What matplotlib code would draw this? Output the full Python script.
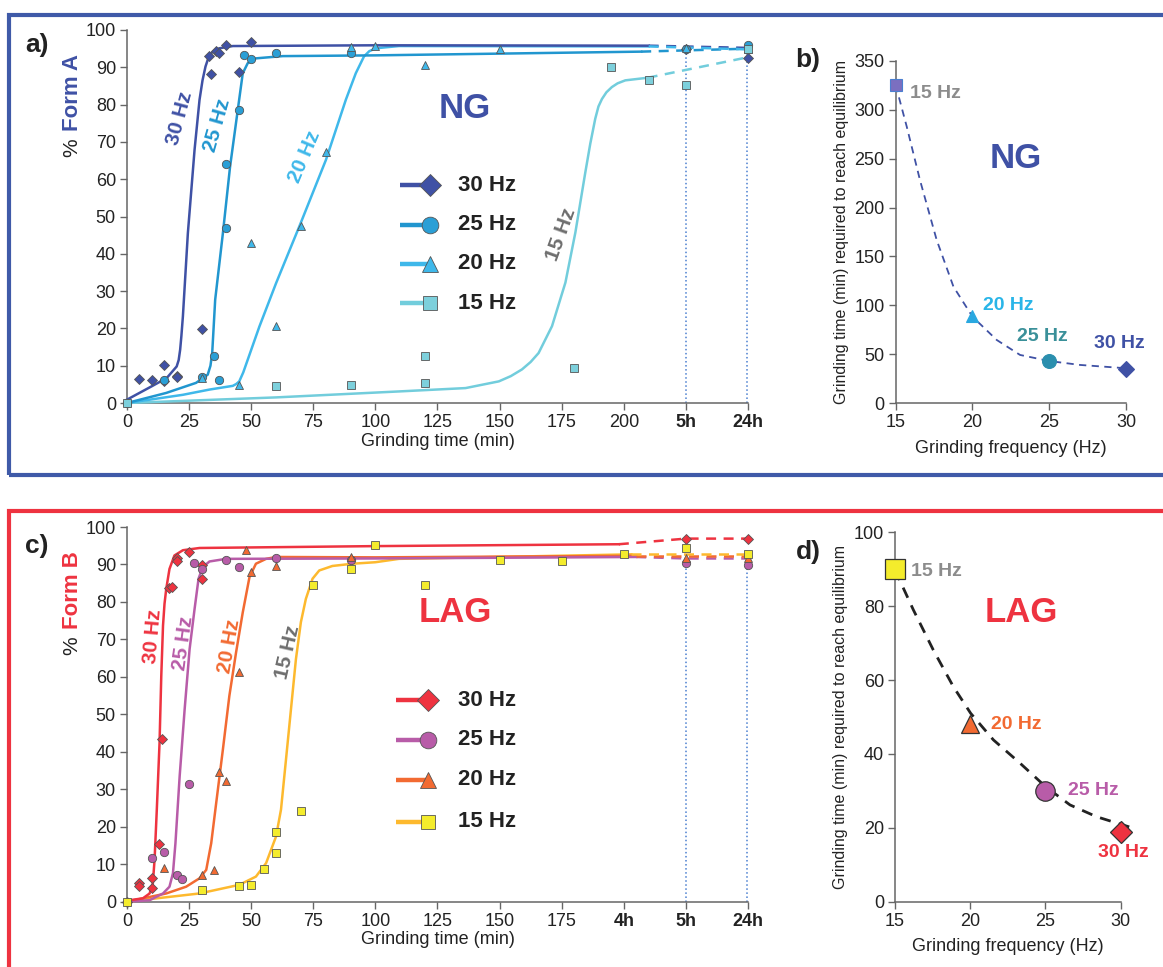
import numpy as np
import matplotlib.pyplot as plt
from matplotlib.patches import Rectangle

plt.rcParams['font.family'] = ['Liberation Sans', 'DejaVu Sans']

# ---------------- data ----------------
# x positions: minutes, with 4h -> 200, 5h -> 225, 24h -> 250 on the broken axis
freqs = ["30 Hz", "25 Hz", "20 Hz", "15 Hz"]

# panel a: NG, % Form A
a30_pts = [(5, 6.4), (10, 6.1), (15, 10.3), (15, 6.0), (20, 7.3), (20, 7.1), (30, 19.8),
           (33, 92.9), (34, 88.2), (36, 94.5), (37, 93.8), (40, 96.0), (45, 88.7), (50, 96.9),
           (225, 95.0), (250, 92.5)]
a25_pts = [(0, 0), (15, 6.2), (30, 7.1), (35, 12.5), (37, 6.1), (40, 64.1), (40, 47.0),
           (45, 78.6), (47, 93.2), (50, 92.3), (60, 93.9), (90, 93.9), (225, 94.8), (250, 95.9)]
a20_pts = [(30, 6.7), (45, 4.9), (50, 43.0), (60, 20.7), (70, 47.5), (80, 67.2), (90, 95.5),
           (100, 95.8), (120, 90.7), (150, 94.8), (225, 95.2), (250, 95.0)]
a15_pts = [(0, 0), (60, 4.6), (90, 4.8), (120, 12.6), (120, 5.4), (180, 9.4), (195, 90.0),
           (210, 86.7), (225, 85.2), (250, 94.8)]

a30_fit = [(0, 0.9), (10, 4.5), (16, 6.7), (20, 9.8), (20.8, 11.5), (21.4, 14.3), (21.9, 18.0),
           (22.5, 23.2), (24.5, 45.5), (27.2, 67.9), (29.2, 81.3), (30.4, 86.5), (31.6, 90.2),
           (32.7, 92.4), (33.9, 93.8), (35.4, 94.6), (37.2, 95.1), (42.6, 95.7), (100, 95.9), (210, 95.8)]
a25_fit = [(0, 0), (15.8, 2.7), (27.8, 5.4), (32.5, 7.6), (33.6, 10.0), (34.3, 13.4), (35.5, 27.7),
           (38.6, 45.5), (41.5, 63.4), (44.6, 78.6), (46.6, 88.4), (48.6, 91.1), (51.9, 92.4),
           (62.7, 93.0), (100, 93.2), (207, 94.2)]
a20_fit = [(0, 0), (22.5, 2.2), (33.2, 3.6), (42.6, 4.6), (44.0, 5.1), (45.2, 5.8), (46.8, 8.2),
           (48.6, 11.6), (53.3, 20.5), (60, 32.1), (69.9, 48.2), (80.1, 65.2), (88.1, 81.3),
           (92.1, 88.4), (95.4, 92.9), (97.5, 94.3), (100.1, 95.1), (109.5, 95.7), (210, 95.6)]
a15_fit = [(0, 0), (60, 1.5), (109.5, 3.1), (136.3, 4.0), (149.7, 5.8), (154.5, 7.2), (159, 9.0),
           (162.5, 11.0), (165.7, 13.4), (171.1, 20.6), (176.5, 32.3), (180.5, 45.7), (184.5, 61.8),
           (186.5, 69.5), (188.5, 76.2), (189.8, 79.5), (191.2, 81.5), (193, 83.3), (195.2, 84.7),
           (197.5, 85.7), (200.6, 86.5), (209.6, 87.2)]
a30_tail = [(210, 95.8), (250, 95.2)]
a25_tail = [(207, 94.2), (250, 95.0)]
a20_tail = [(210, 95.6), (250, 94.8)]
a15_tail = [(209.6, 87.2), (250, 92.7)]

# panel c: LAG, % Form B
c30_pts = [(0, 0), (5, 5.1), (5, 4.2), (10, 6.25), (10, 3.6), (13, 15.4), (14, 43.5), (17, 83.8),
           (18, 84.0), (20, 91.7), (20, 90.8), (25, 93.2), (30, 89.9), (30, 86.0), (225, 96.9), (250, 96.9)]
c25_pts = [(10, 11.7), (15, 13.3), (20, 7.0), (22, 6.0), (25, 31.5), (27, 90.4), (30, 88.8),
           (40, 91.3), (45, 89.3), (60, 91.8), (90, 91.3), (225, 90.5), (250, 89.8)]
c20_pts = [(15, 8.9), (30, 7.1), (35, 8.5), (37, 34.6), (40, 32.1), (45, 61.3), (48, 93.9),
           (50, 88.1), (60, 89.6), (90, 92.0), (225, 91.8), (250, 91.6)]
c15_pts = [(0, 0), (30, 3.1), (45, 4.2), (50, 4.5), (55, 8.6), (60, 13.1), (60, 18.5), (70, 24.3),
           (75, 84.4), (90, 88.8), (100, 95.1), (120, 84.5), (150, 91.2), (175, 90.9), (200, 92.7),
           (225, 94.3), (250, 92.9)]

c30_fit = [(0, 0.3), (6.4, 0.9), (9.1, 2.2), (10.4, 4.9), (11.1, 11.2), (12, 24.6), (13.1, 42.4),
           (13.8, 60.3), (14.5, 73.7), (15.1, 79.5), (15.8, 83.5), (17.1, 88.8), (19.1, 92.4),
           (22.5, 93.8), (29.2, 94.4), (100, 94.9), (198, 95.4)]
c25_fit = [(0, 0), (9.1, 0.4), (14.5, 2.2), (17.1, 4.0), (18.5, 7.6), (19.5, 15.6), (21.2, 33.5),
           (23.2, 51.3), (25.2, 67.4), (27.2, 78.1), (28.8, 86.2), (30.5, 89.3), (33.2, 90.8),
           (39.9, 91.5), (100, 91.6), (205, 92.0)]
c20_fit = [(0, 0), (15.8, 2.2), (23.8, 4.0), (29.2, 6.25), (31.9, 8.5), (33.9, 15.6), (35.9, 26.3),
           (38.6, 40.6), (41.2, 54.9), (43.9, 66.5), (46.6, 77.2), (49.3, 86.6), (51.9, 90.2),
           (56, 91.5), (60, 92.0), (100, 91.9), (205, 92.3)]
c15_fit = [(0, 0), (29.2, 2.2), (45.2, 4.5), (51.9, 6.7), (56, 10.3), (60, 17.4), (62, 24.6),
           (64, 37.9), (66, 51.3), (68, 64.7), (70, 74.6), (72, 80.8), (74.7, 86.2), (77.4, 88.4),
           (82.7, 89.6), (90.8, 90.2), (100, 90.6), (109.5, 91.5), (203, 92.7)]
c30_tail = [(198, 95.4), (225, 96.9), (250, 96.9)]
c25_tail = [(205, 92.0), (225, 91.6), (250, 91.6)]
c20_tail = [(205, 92.3), (250, 92.3)]
c15_tail = [(203, 92.7), (250, 92.7)]

# panels b and d: time to equilibrium vs frequency
eq_freq = [15, 20, 25, 30]
b_time = [325, 89, 43.6, 35]
b_fit = [(15, 325), (15.72, 282.6), (16.58, 228.1), (17.67, 166.8), (18.76, 119.2), (20, 88.5),
         (21.58, 64.7), (23.1, 49.4), (25, 43.2), (27, 39.2), (30, 35.8)]
d_time = [90, 48, 30, 19]
d_fit = [(15, 89.8), (16.22, 79), (17.55, 68.1), (18.88, 58.2), (20.03, 51), (21.54, 43.8),
         (23.31, 37.5), (25.02, 31.1), (26.63, 26.2), (28.4, 23), (30.84, 19.9)]

time_ticks = [0, 25, 50, 75, 100, 125, 150, 175, 200, 225, 250]
a_ticklabels = ["0", "25", "50", "75", "100", "125", "150", "175", "200", "5h", "24h"]
c_ticklabels = ["0", "25", "50", "75", "100", "125", "150", "175", "4h", "5h", "24h"]

# ---------------- styles ----------------
BLUE = "#3f51a5"
RED = "#ee3340"
a_colors = ["#3f51a5", "#2196cf", "#3fb8ea", "#72cddc"]
a_fill = ["#3f51a5", "#2a9fd6", "#3fb8ea", "#7dd0dc"]
c_colors = ["#ee3340", "#b85ca8", "#f26a32", "#fdb92e"]
c_fill = ["#ee3340", "#b85ca8", "#f26a32", "#f4ec2c"]
markers = ["D", "o", "^", "s"]
msizes = [5.5, 6, 5.5, 5.5]
TXT = "#222222"
SPINE = "#666666"

fig = plt.figure(figsize=(11.63, 9.67), dpi=100)
W, H = 1163.0, 967.0


def box(px_l, px_t, px_r, px_b):
    return [px_l / W, 1 - px_b / H, (px_r - px_l) / W, (px_b - px_t) / H]


def style(ax):
    for s in ["top", "right"]:
        ax.spines[s].set_visible(False)
    for s in ["left", "bottom"]:
        ax.spines[s].set_color(SPINE)
        ax.spines[s].set_linewidth(1.1)
    ax.tick_params(direction="out", length=5, width=1, color=SPINE,
                   labelcolor=TXT, labelsize=13, pad=3)


def xy(pts):
    arr = np.array(pts, dtype=float)
    return arr[:, 0], arr[:, 1]


def kinetics(ax, pts, fits, tails, colors, fills, ticklabels, nbold, vtop):
    style(ax)
    ax.set_xlim(0, 250)
    ax.set_ylim(0, 100)
    ax.set_yticks(range(0, 101, 10))
    ax.set_xticks(time_ticks)
    ax.set_xticklabels(ticklabels)
    for lab in ax.get_xticklabels()[-nbold:]:
        lab.set_fontweight("bold")
    ax.vlines([225, 249.6], 0, vtop, colors="#4a7fd0", linestyles=":", linewidth=1.1,
              zorder=1, clip_on=False)
    for i in range(4):
        fx, fy = xy(fits[i])
        ax.plot(fx, fy, color=colors[i], lw=1.8, zorder=3 - i * 0.1, clip_on=False,
                solid_joinstyle="round")
        tx, ty = xy(tails[i])
        ax.plot(tx, ty, color=colors[i], lw=1.8, ls=(0, (4, 3)), zorder=3, clip_on=False)
        px, py = xy(pts[i])
        ax.plot(px, py, ls="none", marker=markers[i], ms=msizes[i], mfc=fills[i],
                mec="#555555", mew=0.6, zorder=5, clip_on=False)
    ax.set_xlabel("Grinding time (min)", fontsize=13, color=TXT, labelpad=1)


def legend(ax, colors, fills, ys, x0, x1, xt):
    for i in range(4):
        ax.plot([x0, x1], [ys[i], ys[i]], color=colors[i], lw=3.2, transform=ax.transAxes,
                clip_on=False, solid_capstyle="butt")
        ax.plot([x1], [ys[i]], marker=markers[i], ms=[11, 12, 12, 10][i], mfc=fills[i],
                mec="#555555", mew=0.6, transform=ax.transAxes, clip_on=False, ls="none")
        ax.text(xt, ys[i], freqs[i], transform=ax.transAxes, fontsize=16, fontweight="bold",
                color=TXT, va="center", ha="left")


# frames
fig.add_artist(Rectangle((9 / W, 1 - 475 / H), 1.0, (475 - 15) / H, transform=fig.transFigure,
                         fill=False, ec="#3f5aa8", lw=3))
fig.add_artist(Rectangle((9 / W, -0.05), 1.0, 0.05 + 1 - 511 / H, transform=fig.transFigure,
                         fill=False, ec=RED, lw=3))

# ---------------- panel a ----------------
ax_a = fig.add_axes(box(127, 30, 748, 403))
kinetics(ax_a, [a30_pts, a25_pts, a20_pts, a15_pts], [a30_fit, a25_fit, a20_fit, a15_fit],
         [a30_tail, a25_tail, a20_tail, a15_tail], a_colors, a_fill, a_ticklabels, 2, 95)
legend(ax_a, a_colors, a_fill, [0.584, 0.478, 0.373, 0.268], 0.44, 0.488, 0.533)
ax_a.text(136, 79, "NG", fontsize=25, fontweight="bold", color=BLUE, ha="center", va="center")
for (x, y, r), lab, col in zip([(21.2, 76.3, 75), (36.2, 74.5, 74), (71.3, 65.9, 67), (174.9, 45.1, 70)],
                               freqs, [BLUE, "#2196cf", "#3fb8ea", "#6e6e6e"]):
    ax_a.text(x, y, lab, rotation=r, fontsize=15, fontweight="bold", color=col,
              ha="center", va="center")

# ---------------- panel c ----------------
ax_c = fig.add_axes(box(127, 527, 748, 901.7))
kinetics(ax_c, [c30_pts, c25_pts, c20_pts, c15_pts], [c30_fit, c25_fit, c20_fit, c15_fit],
         [c30_tail, c25_tail, c20_tail, c15_tail], c_colors, c_fill, c_ticklabels, 3, 90)
legend(ax_c, c_colors, c_fill, [0.538, 0.432, 0.325, 0.213], 0.433, 0.484, 0.533)
ax_c.text(132, 77.3, "LAG", fontsize=25, fontweight="bold", color=RED, ha="center", va="center")
for (x, y, r), lab, col in zip([(10.5, 70.7, 85), (22.5, 69, 82), (41, 68.2, 80), (64.8, 66.7, 77)],
                               freqs, [RED, "#b85ca8", "#f26a32", "#6e6e6e"]):
    ax_c.text(x, y, lab, rotation=r, fontsize=15, fontweight="bold", color=col,
              ha="center", va="center")

# y labels with two colours
fig.text(72 / W, 1 - 148 / H, "%", rotation=90, fontsize=15, color=TXT, ha="center", va="center")
fig.text(72 / W, 1 - 131 / H, "Form A", rotation=90, fontsize=16, fontweight="bold",
         color=BLUE, ha="center", va="bottom")
fig.text(72 / W, 1 - 646 / H, "%", rotation=90, fontsize=15, color=TXT, ha="center", va="center")
fig.text(72 / W, 1 - 629 / H, "Form B", rotation=90, fontsize=16, fontweight="bold",
         color=RED, ha="center", va="bottom")

# ---------------- panel b ----------------
ax_b = fig.add_axes(box(895.7, 60.7, 1126, 403.3))
style(ax_b)
ax_b.set_xlim(15, 30)
ax_b.set_ylim(0, 350)
ax_b.set_xticks([15, 20, 25, 30])
ax_b.set_yticks(range(0, 351, 50))
fx, fy = xy(b_fit)
ax_b.plot(fx, fy, color=BLUE, lw=1.3, ls=(0, (4, 3)), clip_on=False, zorder=2)
b_cols = ["#7b6fc0", "#29a8e0", "#2b8fae", BLUE][::-1]
for i, m in enumerate(markers):
    ax_b.plot([eq_freq[3 - i]], [b_time[3 - i]], marker=m, ms=[8, 10, 9, 9][i], mfc=b_cols[i],
              mec="#4a7fd0" if i == 3 else b_cols[i], mew=0.8, ls="none", clip_on=False, zorder=4)
for (x, y), lab, col in zip([(27.9, 61.6), (22.9, 68.7), (20.69, 100.4), (15.93, 317)], freqs,
                            [BLUE, "#3a9099", "#29b5e8", "#8c8c8c"]):
    ax_b.text(x, y, lab, fontsize=14, fontweight="bold", color=col, ha="left", va="center")
ax_b.text(22.8, 250.5, "NG", fontsize=25, fontweight="bold", color=BLUE, ha="center", va="center")
ax_b.set_xlabel("Grinding frequency (Hz)", fontsize=13, color=TXT, labelpad=6)
ax_b.set_ylabel("Grinding time (min) required to reach equilibrium", fontsize=11.5,
                color=TXT, labelpad=4)

# ---------------- panel d ----------------
ax_d = fig.add_axes(box(895, 532.3, 1120.7, 901.7))
style(ax_d)
ax_d.set_xlim(15, 30)
ax_d.set_ylim(0, 100)
ax_d.set_xticks([15, 20, 25, 30])
ax_d.set_yticks(range(0, 101, 20))
fx, fy = xy(d_fit)
ax_d.plot(fx, fy, color="#222222", lw=2, ls=(0, (4, 3)), clip_on=False, zorder=2)
for i, m in enumerate(markers):
    ax_d.plot([eq_freq[3 - i]], [d_time[3 - i]], marker=m, ms=[11, 14, 13, 15][i], mfc=c_fill[i],
              mec="#333333", mew=0.9, ls="none", clip_on=False, zorder=4)
for (x, y, ha), lab, col in zip([(30.2, 13.2, "center"), (26.5, 30.2, "left"), (21.38, 48.1, "left"),
                                 (16.06, 89.5, "left")], freqs,
                                [RED, "#b85ca8", "#f26a32", "#8c8c8c"]):
    ax_d.text(x, y, lab, fontsize=14, fontweight="bold", color=col, ha=ha, va="center")
ax_d.text(23.4, 78.4, "LAG", fontsize=25, fontweight="bold", color=RED, ha="center", va="center")
ax_d.set_xlabel("Grinding frequency (Hz)", fontsize=13, color=TXT, labelpad=6)
ax_d.set_ylabel("Grinding time (min) required to reach equilibrium", fontsize=11.5,
                color=TXT, labelpad=4)

# panel letters
for x, y, s in [(37, 45, "a)"), (808, 60, "b)"), (37, 546, "c)"), (808, 552, "d)")]:
    fig.text(x / W, 1 - y / H, s, fontsize=19, fontweight="bold", color=TXT, ha="center", va="center")

fig.savefig("out.png", dpi=100)
